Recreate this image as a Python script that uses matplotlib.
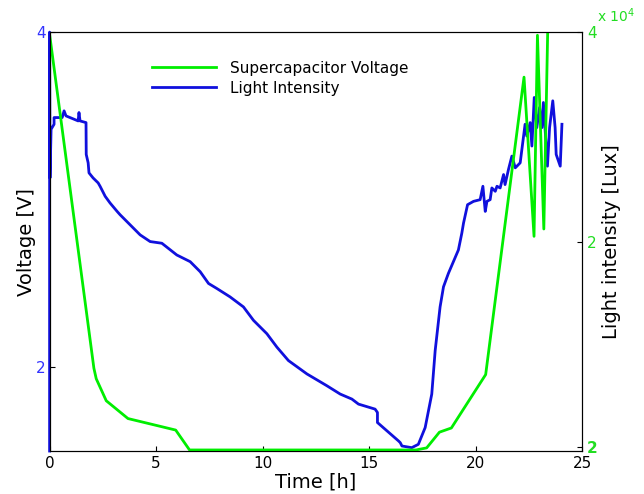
import matplotlib
matplotlib.use("Agg")
import matplotlib.pyplot as plt

# light intensity (drawn on the left axis, as in the original)
t_light = [0, 0, 0.02, 0.07, 0.21, 0.21, 0.59, 0.68, 0.77, 1.34, 1.38, 1.43, 1.71, 1.72,
           1.81, 1.85, 2.04, 2.28, 2.37, 2.61, 2.84, 3.17, 3.31, 3.78, 4.25, 4.72, 5.27,
           5.97, 6.60, 7.07, 7.46, 7.85, 8.47, 9.10, 9.57, 10.20, 10.67, 11.21, 12.08,
           13.01, 13.64, 14.19, 14.50, 15.28, 15.39, 15.39, 16.38, 16.46, 16.54, 17.00,
           17.31, 17.63, 17.94, 18.10, 18.33, 18.49, 18.72, 19.19, 19.35, 19.43, 19.62,
           19.90, 20.21, 20.34, 20.45, 20.53, 20.68, 20.76, 20.92, 21.00, 21.15, 21.31,
           21.38, 21.54, 21.70, 21.86, 22.09, 22.17, 22.32, 22.40, 22.56, 22.64, 22.75,
           22.87, 23.00, 23.11, 23.18, 23.37, 23.47, 23.62, 23.73, 23.78, 23.97, 24.05]
light = [1.5, 4.0, 3.13, 3.42, 3.45, 3.49, 3.49, 3.53, 3.50, 3.47, 3.52, 3.47, 3.46, 3.27,
         3.22, 3.16, 3.13, 3.10, 3.08, 3.02, 2.98, 2.93, 2.91, 2.85, 2.79, 2.75, 2.74,
         2.67, 2.63, 2.57, 2.50, 2.47, 2.42, 2.36, 2.28, 2.20, 2.12, 2.04, 1.96,
         1.89, 1.84, 1.81, 1.78, 1.75, 1.73, 1.67, 1.56, 1.55, 1.53, 1.52,
         1.54, 1.64, 1.84, 2.10, 2.36, 2.48, 2.56, 2.70, 2.80, 2.86, 2.97,
         2.99, 3.00, 3.08, 2.93, 2.99, 3.00, 3.07, 3.05, 3.08, 3.07, 3.15,
         3.09, 3.18, 3.26, 3.19, 3.22, 3.30, 3.45, 3.38, 3.46, 3.32, 3.61,
         3.43, 3.55, 3.43, 3.58, 3.20, 3.43, 3.59, 3.43, 3.27, 3.20, 3.45]

# supercapacitor voltage (drawn on the right axis)
t_volt = [0, 2.08, 2.19, 2.66, 3.68, 5.92, 6.57, 17.2, 17.7, 18.3, 18.86, 20.47,
          22.27, 22.74, 22.9, 23.2, 23.38]
volt = [3.98, 0.79, 0.69, 0.48, 0.31, 0.20, 0.01, 0.01, 0.03, 0.18, 0.22, 0.73,
        3.57, 2.05, 3.97, 2.12, 3.99]

right_ticks = [0.04, 2, 4]
right_labels = ["2", "2", "4"]

fig = plt.figure(figsize=(6.44, 4.94), dpi=100)
ax1 = fig.add_axes([0.077, 0.087, 0.827, 0.848])
ax2 = ax1.twinx()

l_blue, = ax1.plot(t_light, light, color="#1010dd", lw=2, clip_on=False, zorder=3)
l_green, = ax2.plot(t_volt, volt, color="#00ee00", lw=2)

ax1.set_xlim(0, 25)
ax1.set_ylim(1.5, 4)
ax1.set_yticks([2, 4])
ax1.set_xticks([0, 5, 10, 15, 20, 25])
ax1.tick_params(axis="both", direction="in", labelsize=11)
ax1.tick_params(axis="y", labelcolor="#3333ff", pad=3)
ax1.set_xlabel("Time [h]", fontsize=14, labelpad=1)
ax1.set_ylabel("Voltage [V]", fontsize=14, labelpad=0)

ax2.set_ylim(0, 4)
ax2.set_yticks(right_ticks)
ax2.set_yticklabels(right_labels)
ax2.tick_params(axis="y", direction="in", labelcolor="#22dd22", labelsize=11)
ax2.get_yticklabels()[0].set_fontweight("bold")
ax2.set_ylabel("Light intensity [Lux]", fontsize=14, labelpad=3)
fig.text(0.927, 0.955, r"x $10^4$", color="#22dd22", fontsize=10)

fig.legend([l_green, l_blue], ["Supercapacitor Voltage", "Light Intensity"],
           loc="upper left", bbox_to_anchor=(0.215, 0.905), frameon=False,
           fontsize=11, handlelength=4.2, handletextpad=0.9, labelspacing=0.32)

fig.savefig("out.png", dpi=100)
